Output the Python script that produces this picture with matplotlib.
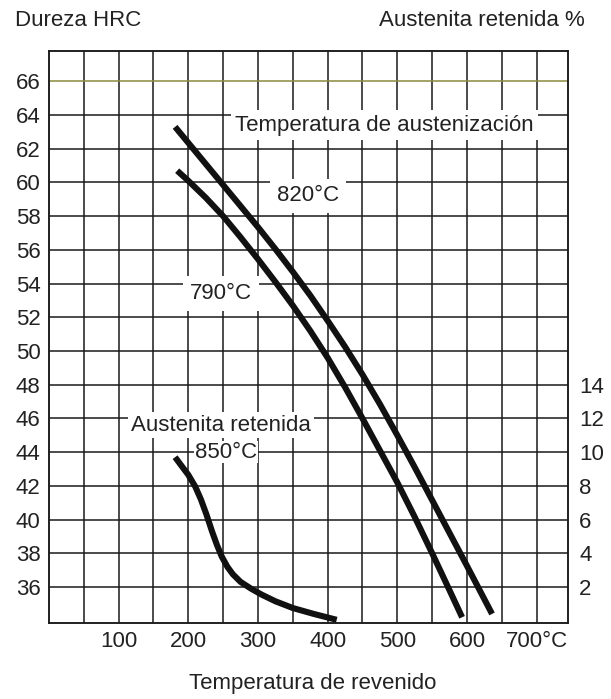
import matplotlib.pyplot as plt

plt.rcParams['font.family'] = ['Liberation Sans', 'DejaVu Sans']

# Dureza tras revenido, austenizado a 820 °C
temp_820 = [181, 200, 225, 250, 275, 300, 325, 350, 375, 400, 425, 450, 475, 500, 525, 550, 575, 600, 636]
hrc_820 = [63.3, 62.35, 61.1, 59.85, 58.6, 57.35, 56.05, 54.7, 53.3, 51.8, 50.25, 48.6, 46.85, 45.0,
           43.1, 41.15, 39.2, 37.25, 34.4]

# Dureza tras revenido, austenizado a 790 °C
temp_790 = [184, 200, 225, 250, 275, 300, 325, 350, 375, 400, 425, 450, 475, 500, 525, 550, 575, 593]
hrc_790 = [60.7, 60.1, 59.1, 58.0, 56.75, 55.45, 54.1, 52.7, 51.2, 49.6, 47.85, 46.0, 44.1, 42.2,
           40.15, 38.0, 35.8, 34.2]

# Austenita retenida (%), austenizado a 850 °C
temp_aust = [181, 190, 200, 210, 218, 226, 234, 241, 248, 256, 264, 275, 290, 305, 325, 350, 380, 413]
aust_pct = [9.7, 9.2, 8.65, 7.95, 7.2, 6.3, 5.3, 4.5, 3.8, 3.2, 2.75, 2.3, 1.9, 1.55, 1.15, 0.75, 0.4, 0.05]

x_ticks = [100, 200, 300, 400, 500, 600, 700]
x_labels = ['100', '200', '300', '400', '500', '600', '700°C']
hrc_ticks = list(range(36, 67, 2))
aust_ticks = list(range(2, 15, 2))

# Desplazamiento entre escalas: 0 % austenita = 34 HRC
offset = 34
ylim_hrc = (33.86, 67.8)
xlim = (0, 745)

fig = plt.figure(figsize=(6.11, 6.99), dpi=100)
ax = fig.add_axes([0.0802, 0.1087, 0.8494, 0.8183])
ax2 = ax.twinx()

grid_color = '#1a1a1a'
text_color = '#222222'
for x in range(50, 701, 50):
    ax.axvline(x, color=grid_color, lw=1.1, zorder=1)
for y in hrc_ticks:
    c = '#8c8a3c' if y == 66 else grid_color
    ax.axhline(y, color=c, lw=1.1, zorder=1)

ax.plot(temp_820, hrc_820, color='#111111', lw=4.4, solid_capstyle='butt', zorder=5)
ax.plot(temp_790, hrc_790, color='#111111', lw=4.4, solid_capstyle='butt', zorder=5)
ax2.plot(temp_aust, aust_pct, color='#111111', lw=4.4, solid_capstyle='butt', zorder=5)

ax.set_xlim(*xlim)
ax.set_ylim(*ylim_hrc)
ax2.set_ylim(ylim_hrc[0] - offset, ylim_hrc[1] - offset)

ax.set_xticks(x_ticks)
ax.set_xticklabels(x_labels)
ax.set_yticks(hrc_ticks)
ax2.set_yticks(aust_ticks)

ax.tick_params(length=0, labelsize=16, pad=6, colors=text_color)
ax2.tick_params(length=0, labelsize=16, pad=8, colors=text_color)
for a in (ax, ax2):
    for s in a.spines.values():
        s.set_color(grid_color)
        s.set_linewidth(1.1)

ax.text(482, 63.4, 'Temperatura de austenización', fontsize=16, ha='center', va='center',
        color=text_color, bbox=dict(facecolor='white', edgecolor='none', pad=3), zorder=3)
ax.text(372, 59.2, '820°C', fontsize=16, ha='center', va='center', color=text_color,
        bbox=dict(facecolor='white', edgecolor='none', pad=5), zorder=3)
ax.text(247, 53.4, '790°C', fontsize=16, ha='center', va='center', color=text_color,
        bbox=dict(facecolor='white', edgecolor='none', pad=5), zorder=3)
ax.text(247, 45.6, 'Austenita retenida', fontsize=16, ha='center', va='center',
        color=text_color, bbox=dict(facecolor='white', edgecolor='none', pad=2), zorder=3)
ax.text(254, 44.0, '850°C', fontsize=16, ha='center', va='center', color=text_color,
        bbox=dict(facecolor='white', edgecolor='none', pad=0.5), zorder=3)

fig.text(15 / 611, 1 - 21 / 699, 'Dureza HRC', fontsize=16, ha='left', va='center', color=text_color)
fig.text(585 / 611, 1 - 21 / 699, 'Austenita retenida %', fontsize=16, ha='right', va='center',
         color=text_color)
fig.text(313 / 611, 1 - 683 / 699, 'Temperatura de revenido', fontsize=16, ha='center', va='center',
         color=text_color)

fig.savefig('out.png', dpi=100, facecolor='white')
